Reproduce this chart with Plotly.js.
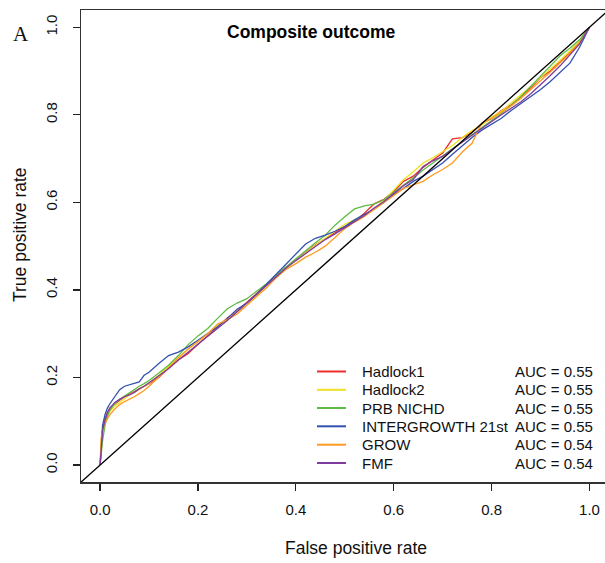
<!DOCTYPE html>
<html>
<head>
<meta charset="utf-8">
<script src="https://cdn.plot.ly/plotly-3.0.1.min.js"></script>
<style>html,body{margin:0;padding:0;background:#fff;}#chart{width:605px;height:563px;}</style>
</head>
<body>
<div id="chart"></div>
<script>
// False positive rate grid (shared by all curves)
const fpr = [0, 0.002, 0.005, 0.01, 0.015, 0.02, 0.03, 0.04, 0.05, 0.06, 0.07, 0.08, 0.09, 0.10,
  0.12, 0.14, 0.16, 0.18, 0.20, 0.22, 0.24, 0.26, 0.28, 0.30,
  0.32, 0.34, 0.36, 0.38, 0.40, 0.42, 0.44, 0.46, 0.48, 0.50,
  0.52, 0.54, 0.56, 0.58, 0.60, 0.62, 0.64, 0.66, 0.68, 0.70,
  0.72, 0.74, 0.76, 0.78, 0.80, 0.82, 0.84, 0.86, 0.88, 0.90,
  0.92, 0.94, 0.96, 0.98, 0.99, 1.0];

// True positive rate per model
const hadlock1 = [0, 0.045, 0.08, 0.105, 0.12, 0.13, 0.14, 0.148, 0.156, 0.162, 0.168, 0.175, 0.18, 0.186,
  0.2, 0.222, 0.24, 0.255, 0.276, 0.295, 0.315, 0.336, 0.352, 0.372,
  0.392, 0.41, 0.43, 0.452, 0.468, 0.486, 0.503, 0.517, 0.532, 0.545,
  0.557, 0.575, 0.597, 0.607, 0.625, 0.648, 0.66, 0.68, 0.697, 0.713,
  0.745, 0.748, 0.76, 0.78, 0.792, 0.81, 0.823, 0.84, 0.862, 0.885,
  0.9, 0.92, 0.942, 0.966, 0.983, 1.0];
const hadlock2 = [0, 0.035, 0.07, 0.095, 0.112, 0.122, 0.135, 0.143, 0.152, 0.16, 0.166, 0.173, 0.18, 0.187,
  0.205, 0.226, 0.245, 0.265, 0.283, 0.3, 0.318, 0.333, 0.35, 0.37,
  0.388, 0.41, 0.434, 0.45, 0.468, 0.486, 0.502, 0.518, 0.533, 0.55,
  0.56, 0.57, 0.585, 0.605, 0.628, 0.652, 0.67, 0.69, 0.702, 0.716,
  0.73, 0.748, 0.764, 0.777, 0.795, 0.808, 0.826, 0.846, 0.865, 0.884,
  0.905, 0.925, 0.946, 0.97, 0.985, 1.0];
const prbNichd = [0, 0.025, 0.055, 0.09, 0.112, 0.125, 0.14, 0.15, 0.158, 0.165, 0.172, 0.18, 0.186, 0.193,
  0.21, 0.228, 0.25, 0.275, 0.295, 0.312, 0.335, 0.357, 0.37, 0.38,
  0.397, 0.414, 0.434, 0.453, 0.47, 0.49, 0.508, 0.525, 0.548, 0.567,
  0.585, 0.592, 0.596, 0.606, 0.622, 0.64, 0.656, 0.674, 0.69, 0.708,
  0.722, 0.74, 0.756, 0.772, 0.787, 0.803, 0.822, 0.842, 0.865, 0.888,
  0.91, 0.935, 0.952, 0.972, 0.986, 1.0];
const intergrowth = [0, 0.05, 0.09, 0.115, 0.13, 0.14, 0.155, 0.172, 0.18, 0.183, 0.186, 0.19, 0.205, 0.212,
  0.232, 0.25, 0.258, 0.27, 0.285, 0.3, 0.316, 0.335, 0.356, 0.37,
  0.39, 0.413, 0.436, 0.46, 0.484, 0.505, 0.518, 0.525, 0.534, 0.545,
  0.56, 0.572, 0.585, 0.6, 0.618, 0.632, 0.648, 0.66, 0.675, 0.69,
  0.71, 0.73, 0.748, 0.765, 0.778, 0.792, 0.81, 0.826, 0.84, 0.858,
  0.876, 0.898, 0.918, 0.955, 0.978, 1.0];
const grow = [0, 0.06, 0.08, 0.095, 0.105, 0.115, 0.128, 0.138, 0.145, 0.15, 0.156, 0.163, 0.17, 0.18,
  0.2, 0.222, 0.245, 0.265, 0.282, 0.3, 0.322, 0.332, 0.345, 0.365,
  0.385, 0.405, 0.428, 0.447, 0.46, 0.475, 0.486, 0.5, 0.52, 0.54,
  0.555, 0.568, 0.584, 0.6, 0.618, 0.632, 0.64, 0.648, 0.663, 0.675,
  0.69, 0.715, 0.735, 0.782, 0.792, 0.806, 0.82, 0.838, 0.857, 0.878,
  0.898, 0.918, 0.94, 0.965, 0.982, 1.0];
const fmf = [0, 0.04, 0.078, 0.102, 0.12, 0.13, 0.143, 0.15, 0.156, 0.16, 0.166, 0.174, 0.18, 0.188,
  0.203, 0.22, 0.24, 0.258, 0.276, 0.292, 0.31, 0.33, 0.35, 0.37,
  0.39, 0.412, 0.432, 0.45, 0.467, 0.483, 0.5, 0.515, 0.528, 0.542,
  0.555, 0.57, 0.587, 0.602, 0.62, 0.638, 0.652, 0.682, 0.695, 0.705,
  0.722, 0.738, 0.752, 0.77, 0.785, 0.8, 0.815, 0.83, 0.848, 0.868,
  0.89, 0.912, 0.936, 0.962, 0.982, 1.0];

const modelNames = ["Hadlock1", "Hadlock2", "PRB NICHD", "INTERGROWTH 21st", "GROW", "FMF"];
const modelAUC = ["0.55", "0.55", "0.55", "0.55", "0.54", "0.54"];
const modelColors = ["#EE2C2C", "#EEE21E", "#5DBB46", "#3450B0", "#FF9A1E", "#7E3C9E"];
const modelTPR = [hadlock1, hadlock2, prbNichd, intergrowth, grow, fmf];
const refLine = [-0.05, 1.05];
const xTicks = [0, 0.2, 0.4, 0.6, 0.8, 1.0];
const xTickText = ["0.0", "0.2", "0.4", "0.6", "0.8", "1.0"];

const W = 605, H = 563;
const M = {l: 81, r: 0, t: 10, b: 81};
const pw = W - M.l - M.r, ph = H - M.t - M.b;
const px = v => (v - M.l) / pw;
const py = v => (H - M.b - v) / ph;

const traces = modelTPR.map((tpr, i) => ({
  type: "scatter", mode: "lines", x: fpr, y: tpr, name: modelNames[i],
  line: {color: modelColors[i], width: 1.3}, hoverinfo: "skip"
}));
traces.push({type: "scatter", mode: "lines", x: refLine, y: refLine,
  line: {color: "#000", width: 1.4}, hoverinfo: "skip", name: "reference"});

const FONT = "Liberation Sans, Arial, sans-serif";
function ann(text, x, y, opts) {
  return Object.assign({text: text, x: px(x), y: py(y), xref: "paper", yref: "paper",
    xanchor: "center", yanchor: "middle", showarrow: false,
    font: {family: FONT, size: 15, color: "#111"}}, opts || {});
}
const annotations = [
  ann("A", 21, 34, {font: {family: "Liberation Serif, Times New Roman, serif", size: 21, color: "#111"}}),
  ann("<b>Composite outcome</b>", 311, 32, {font: {family: FONT, size: 17.5, color: "#000"}}),
  ann("False positive rate", 356, 548, {font: {family: FONT, size: 17.5, color: "#111"}}),
  ann("True positive rate", 20, 235, {textangle: -90, font: {family: FONT, size: 17.5, color: "#111"}})
];
const shapes = [];
const rowY = [371.5, 389.8, 408, 426.3, 444.7, 463];
modelNames.forEach((n, i) => {
  shapes.push({type: "line", xref: "paper", yref: "paper", x0: px(317), x1: px(346), y0: py(rowY[i]), y1: py(rowY[i]),
    line: {color: modelColors[i], width: 2}});
  annotations.push(ann(n, 360, rowY[i], {xanchor: "left"}));
  annotations.push(ann("AUC = " + modelAUC[i], 594.5, rowY[i], {xanchor: "right"}));
});

const layout = {
  width: W, height: H, margin: M, showlegend: false,
  paper_bgcolor: "#fff", plot_bgcolor: "#fff",
  xaxis: {range: [-0.039, 1.0317], tickvals: xTicks, ticktext: xTickText, ticks: "outside", ticklen: 7,
    tickwidth: 1.2, tickcolor: "#222", showline: true, linecolor: "#333", linewidth: 1.5, mirror: true,
    showgrid: false, zeroline: false, ticklabelstandoff: 6,
    tickfont: {family: FONT, size: 15, color: "#111"}},
  yaxis: {range: [-0.0388, 1.0395], tickvals: xTicks, ticktext: xTickText, ticks: "outside", ticklen: 7,
    tickwidth: 1.2, tickcolor: "#222", showline: true, linecolor: "#333", linewidth: 1.5,
    showgrid: false, zeroline: false, tickangle: -90, ticklabelstandoff: 10,
    tickfont: {family: FONT, size: 15, color: "#111"}},
  annotations: annotations, shapes: shapes
};
Plotly.newPlot("chart", traces, layout, {staticPlot: true, displayModeBar: false});
</script>
</body>
</html>
